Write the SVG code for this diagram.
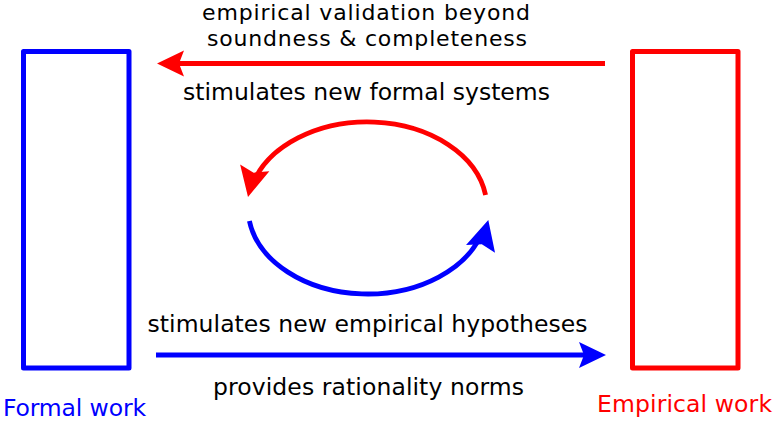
<svg xmlns="http://www.w3.org/2000/svg" xmlns:xlink="http://www.w3.org/1999/xlink" width="775" height="422" viewBox="0 0 775 422">
  <style>
    .lbl { font-family: "DejaVu Sans", "Liberation Sans", sans-serif; font-size: 23.5px; fill: #000; }
    .tight { font-size: 22px; }
    .box { fill: none; stroke-width: 5; stroke-linejoin: round; }
    .conn { fill: none; stroke-width: 4.8; }
    .red { stroke: #ff0000; }
    .blue { stroke: #0000ff; }
  </style>
  <defs>
    <marker id="headR" viewBox="-30 -15 32 30" refX="-12" refY="0" markerWidth="32" markerHeight="30" markerUnits="userSpaceOnUse" orient="auto" overflow="visible">
      <path d="M0,0 L-27,-13 L-22,0 L-27,13 Z" fill="#ff0000"/>
    </marker>
    <marker id="headB" viewBox="-30 -15 32 30" refX="-12" refY="0" markerWidth="32" markerHeight="30" markerUnits="userSpaceOnUse" orient="auto" overflow="visible">
      <path d="M0,0 L-27,-13 L-22,0 L-27,13 Z" fill="#0000ff"/>
    </marker>
    <path id="arcHead" d="M0,0 L-30,-15 L-25,0 L-30,15 Z"/>
  </defs>

  <g id="formal">
    <rect class="box blue" x="23.5" y="51.5" width="105.5" height="316.5"/>
    <text class="lbl" x="3" y="416" textLength="143" style="fill:#0000ff">Formal work</text>
  </g>

  <g id="empirical">
    <rect class="box red" x="632.5" y="51.5" width="105.5" height="316.5"/>
    <text class="lbl" x="597" y="412" textLength="175" style="fill:#ff0000">Empirical work</text>
  </g>

  <g id="connectors">
    <path class="conn red" d="M605,63.5 H169" marker-end="url(#headR)"/>
    <path class="conn blue" d="M156,355 H594" marker-end="url(#headB)"/>
    <path class="conn red" d="M485.6,195 A119.5,86 0 0 0 252.3,185"/>
    <use xlink:href="#arcHead" fill="#ff0000" transform="translate(248,197) rotate(103)"/>
    <path class="conn blue" d="M249.4,221 A119.5,86 0 0 0 483.4,229"/>
    <use xlink:href="#arcHead" fill="#0000ff" transform="translate(488.3,220) rotate(-75)"/>
  </g>

  <g id="labels">
    <text class="lbl tight" x="202" y="20" textLength="328">empirical validation beyond</text>
    <text class="lbl tight" x="207" y="46" textLength="320">soundness &amp; completeness</text>
    <text class="lbl" x="183" y="100" textLength="367">stimulates new formal systems</text>
    <text class="lbl" x="147.5" y="332" textLength="440">stimulates new empirical hypotheses</text>
    <text class="lbl" x="213" y="395" textLength="311">provides rationality norms</text>
  </g>
</svg>
